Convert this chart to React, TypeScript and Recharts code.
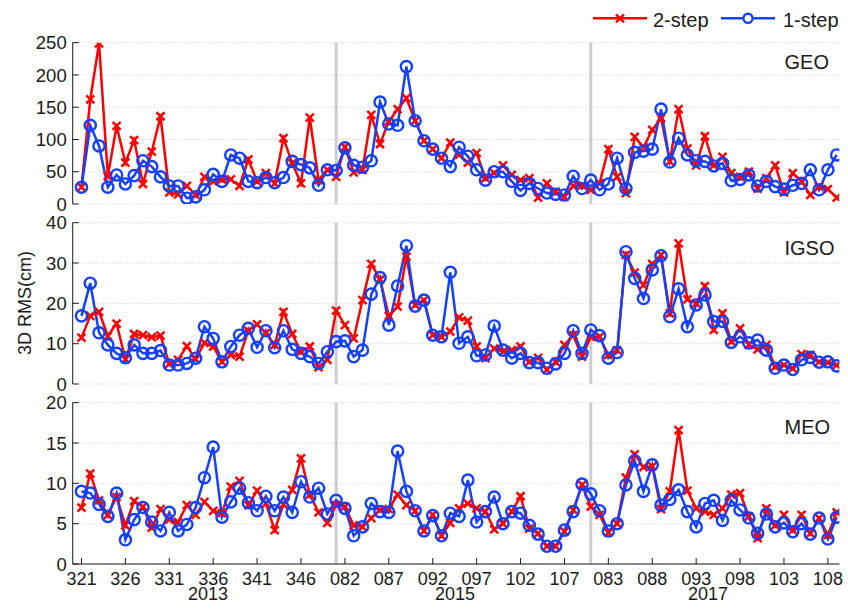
import React from "react";
import { LineChart, Line, XAxis, YAxis, CartesianGrid, ReferenceLine } from "recharts";

// sample index of each tick and its day label (three campaigns)
const xTicks = [0, 5, 10, 15, 20, 25, 30, 35, 40, 45, 50, 55, 60, 65, 70, 75, 80, 85];
const xTickLabels = [
  "321", "326", "331", "336", "341", "346",
  "082", "087", "092", "097", "102", "107",
  "083", "088", "093", "098", "103", "108",
];
const yearLabels = ["2013", "2015", "2017"];
const yearCenters = [208, 455, 708];
const campaignBreaks = [29, 58];

const geo2 = [26, 162, 249, 43, 121, 64, 99, 31, 81, 136, 18, 15, 28, 14, 42, 35, 38, 38, 28, 69, 35, 48, 32, 102, 63, 32, 134, 37, 53, 42, 88, 49, 53, 138, 93, 128, 147, 164, 129, 98, 85, 71, 95, 76, 64, 79, 40, 48, 60, 45, 37, 40, 10, 32, 19, 11, 28, 29, 22, 32, 85, 42, 17, 104, 88, 115, 133, 66, 147, 86, 60, 105, 60, 73, 48, 42, 50, 24, 40, 60, 18, 48, 35, 14, 27, 23, 10];
const geo1 = [26, 122, 90, 26, 45, 31, 44, 67, 58, 42, 28, 28, 9, 11, 22, 46, 35, 76, 71, 35, 33, 41, 33, 41, 66, 61, 56, 29, 53, 52, 87, 60, 57, 67, 158, 124, 122, 213, 129, 98, 85, 71, 58, 88, 74, 53, 37, 50, 50, 35, 21, 32, 24, 17, 15, 14, 43, 24, 37, 22, 31, 71, 24, 80, 82, 85, 147, 65, 102, 76, 67, 66, 59, 63, 36, 38, 45, 28, 35, 27, 23, 29, 32, 53, 22, 53, 76];

const igso2 = [11.5, 16.9, 17.9, 11.9, 15.0, 6.1, 12.4, 12.1, 11.6, 12.0, 5.0, 6.0, 9.4, 6.1, 10.2, 9.3, 5.5, 7.2, 6.8, 13.2, 14.8, 12.6, 9.7, 17.9, 12.4, 8.0, 9.3, 4.1, 6.0, 18.2, 14.6, 11.3, 20.8, 29.8, 25.9, 16.9, 19.2, 31.6, 19.6, 20.8, 12.1, 11.7, 13.0, 16.5, 15.7, 9.3, 6.4, 8.8, 8.0, 8.4, 9.3, 5.5, 6.5, 3.5, 5.5, 9.7, 12.1, 6.8, 11.7, 11.7, 7.2, 8.4, 32.0, 27.6, 24.5, 29.8, 32.0, 17.5, 34.9, 21.0, 20.0, 24.3, 13.4, 17.5, 10.5, 13.8, 9.7, 8.6, 9.7, 4.3, 4.7, 3.9, 7.4, 7.2, 5.5, 5.3, 4.7];
const igso1 = [16.9, 25.0, 12.7, 9.7, 7.6, 6.5, 9.7, 7.6, 7.6, 8.3, 4.7, 4.7, 5.1, 6.4, 14.2, 11.3, 5.5, 9.3, 12.1, 13.8, 9.1, 13.2, 9.0, 13.2, 8.6, 7.6, 6.8, 5.1, 8.0, 10.5, 10.7, 6.8, 8.4, 22.3, 26.4, 14.6, 24.3, 34.3, 19.3, 20.8, 12.1, 11.7, 27.7, 10.1, 11.7, 7.0, 7.2, 14.4, 8.4, 6.4, 7.6, 5.3, 5.3, 3.9, 5.0, 7.6, 13.2, 7.6, 13.4, 12.0, 6.4, 7.8, 32.8, 26.2, 21.2, 28.3, 31.8, 16.7, 23.6, 14.2, 19.6, 22.1, 15.5, 15.5, 10.3, 11.7, 10.2, 10.9, 8.4, 3.9, 4.7, 3.6, 6.0, 6.6, 5.4, 5.5, 4.5];

const meo2 = [7.0, 11.2, 7.9, 6.1, 8.3, 4.8, 7.8, 7.1, 4.5, 6.8, 5.5, 5.2, 7.3, 6.1, 7.7, 6.6, 6.3, 9.6, 10.3, 7.3, 9.1, 7.5, 4.2, 7.4, 9.2, 13.1, 8.6, 6.4, 5.1, 7.3, 7.1, 4.8, 4.6, 5.7, 6.7, 6.8, 8.6, 7.3, 6.6, 4.1, 6.1, 3.5, 5.1, 6.9, 7.5, 6.9, 6.5, 4.3, 5.0, 6.5, 8.4, 4.4, 3.8, 2.2, 2.2, 4.0, 6.7, 9.8, 7.1, 6.1, 3.9, 5.0, 10.7, 13.6, 12.0, 12.1, 6.8, 9.0, 16.6, 9.1, 6.9, 6.5, 6.1, 6.9, 8.6, 8.8, 5.9, 3.2, 6.9, 4.8, 6.1, 4.2, 6.1, 3.8, 5.7, 3.6, 6.4];
const meo1 = [9.0, 8.8, 7.4, 5.9, 8.8, 3.0, 5.5, 7.0, 5.2, 4.1, 6.4, 4.1, 4.9, 7.0, 10.7, 14.5, 5.8, 7.7, 9.4, 7.6, 6.6, 8.4, 6.6, 8.3, 6.4, 10.2, 8.3, 9.4, 6.2, 7.9, 6.9, 3.5, 4.6, 7.5, 6.5, 6.4, 14.0, 9.0, 6.6, 4.1, 6.0, 3.5, 6.3, 5.9, 10.4, 5.2, 6.5, 8.3, 5.0, 6.5, 6.3, 4.8, 3.7, 2.2, 2.2, 4.2, 6.5, 9.9, 8.7, 6.6, 4.1, 5.0, 9.8, 12.8, 9.0, 12.3, 7.3, 8.0, 9.2, 6.5, 4.6, 7.5, 7.9, 5.4, 7.9, 6.7, 5.7, 3.8, 6.2, 4.6, 5.1, 4.0, 5.0, 3.7, 5.7, 3.1, 5.8];

const RED = "#ff0000";
const BLUE = "#1440ff";
const INK = "#1a1a1a";
const FONT = "'Liberation Sans', Arial, sans-serif";

const PLOT_LEFT = 72.7;
const PLOT_RIGHT = 839.3;
const PLOT_H = 161.3;
const PAD_TOP = 12.7;
const X_DOMAIN: [number, number] = [-1, 86.3];

const CrossDot = (props: any) => {
  const { cx, cy, index } = props;
  if (cx == null || cy == null) return <g key={index} />;
  const s = 4;
  return (
    <path
      key={index}
      d={`M${cx - s},${cy - s}L${cx + s},${cy + s}M${cx - s},${cy + s}L${cx + s},${cy - s}`}
      stroke={RED}
      strokeWidth={2.5}
      fill="none"
    />
  );
};

const RingDot = (props: any) => {
  const { cx, cy, index } = props;
  if (cx == null || cy == null) return <g key={index} />;
  return <circle key={index} cx={cx} cy={cy} r={5.6} stroke={BLUE} strokeWidth={2.4} fill="none" />;
};

type PanelProps = {
  top: number;
  two: number[];
  one: number[];
  yMax: number;
  yTicks: number[];
  showX?: boolean;
};

function Panel({ top, two, one, yMax, yTicks, showX }: PanelProps) {
  const rows = two.map((v, i) => ({ x: i, two: v, one: one[i] }));
  const xh = showX ? 46 : 0;
  // room below the plot so the "0" label is not clipped
  const padBottom = showX ? 0 : 10;
  const axisStroke = { stroke: INK, strokeWidth: 1 };
  const tickText = { fill: INK, fontSize: 18, fontFamily: FONT };

  return (
    <div style={{ position: "absolute", left: 0, top }}>
      <LineChart
        width={848}
        height={PAD_TOP + PLOT_H + xh + padBottom}
        data={rows}
        margin={{ top: PAD_TOP, right: 848 - PLOT_RIGHT, bottom: padBottom, left: 0 }}
        style={{ overflow: "visible" }}
      >
        <CartesianGrid xAxisId="b" yAxisId="l" vertical={false} stroke="#c8c8c8" strokeDasharray="1 2" />
        <XAxis
          xAxisId="b"
          dataKey="x"
          type="number"
          domain={X_DOMAIN}
          allowDataOverflow
          ticks={xTicks}
          interval={0}
          height={xh}
          tickSize={-6}
          tickMargin={14}
          axisLine={axisStroke}
          tickLine={axisStroke}
          tick={showX ? tickText : false}
          tickFormatter={(v: number) => xTickLabels[xTicks.indexOf(v)] ?? ""}
        />
        <XAxis
          xAxisId="t"
          orientation="top"
          type="number"
          domain={X_DOMAIN}
          allowDataOverflow
          ticks={xTicks}
          interval={0}
          height={0}
          tickSize={-6}
          axisLine={axisStroke}
          tickLine={axisStroke}
          tick={false}
        />
        <YAxis
          yAxisId="l"
          type="number"
          domain={[0, yMax]}
          allowDataOverflow
          ticks={yTicks}
          interval={0}
          width={PLOT_LEFT}
          tickSize={-6}
          tickMargin={12}
          axisLine={axisStroke}
          tickLine={axisStroke}
          tick={{ ...tickText, fontSize: 18.5 }}
        />
        <YAxis
          yAxisId="r"
          orientation="right"
          type="number"
          domain={[0, yMax]}
          allowDataOverflow
          ticks={yTicks}
          interval={0}
          width={0}
          tickSize={-6}
          axisLine={axisStroke}
          tickLine={axisStroke}
          tick={false}
        />
        {campaignBreaks.map((b) => (
          <ReferenceLine key={b} xAxisId="b" yAxisId="l" x={b} stroke="#cdcdcd" strokeWidth={3} />
        ))}
        <Line
          xAxisId="b"
          yAxisId="l"
          dataKey="two"
          stroke={RED}
          strokeWidth={2.5}
          dot={CrossDot}
          activeDot={false}
          isAnimationActive={false}
        />
        <Line
          xAxisId="b"
          yAxisId="l"
          dataKey="one"
          stroke={BLUE}
          strokeWidth={2.5}
          dot={RingDot}
          activeDot={false}
          isAnimationActive={false}
        />
      </LineChart>
    </div>
  );
}

export default function App() {
  return (
    <div
      style={{
        position: "absolute",
        left: 0,
        top: 0,
        width: 848,
        height: 610,
        background: "#fff",
        fontFamily: FONT,
        overflow: "hidden",
      }}
    >
      <Panel top={30} two={geo2} one={geo1} yMax={250} yTicks={[0, 50, 100, 150, 200, 250]} />
      <Panel top={210} two={igso2} one={igso1} yMax={40} yTicks={[0, 10, 20, 30, 40]} />
      <Panel top={390} two={meo2} one={meo1} yMax={20} yTicks={[0, 5, 10, 15, 20]} showX />

      <svg
        width={848}
        height={610}
        style={{ position: "absolute", left: 0, top: 0, pointerEvents: "none" }}
        fontFamily={FONT}
      >
        {/* legend */}
        <line x1={593} x2={647} y1={18.3} y2={18.3} stroke={RED} strokeWidth={2.5} />
        <path d="M616,14.3L624,22.3M616,22.3L624,14.3" stroke={RED} strokeWidth={2.5} />
        <text x={653} y={26.5} fontSize={20} fill={INK}>2-step</text>
        <line x1={721} x2={775} y1={18.3} y2={18.3} stroke={BLUE} strokeWidth={2.5} />
        <circle cx={748} cy={18.3} r={4.6} stroke={BLUE} strokeWidth={2.4} fill="#fff" />
        <text x={783} y={26.5} fontSize={20} fill={INK}>1-step</text>

        {/* panel names */}
        <text x={784.5} y={69} fontSize={20} fill={INK}>GEO</text>
        <text x={784.5} y={255} fontSize={20} fill={INK}>IGSO</text>
        <text x={784.5} y={434} fontSize={20} fill={INK}>MEO</text>

        <text x={31} y={303} fontSize={18} fill={INK} textAnchor="middle" transform="rotate(-90 31 303)">
          3D RMS(cm)
        </text>

        {yearLabels.map((y, i) => (
          <text key={y} x={yearCenters[i]} y={600} fontSize={18} fill={INK} textAnchor="middle">
            {y}
          </text>
        ))}
      </svg>
    </div>
  );
}
